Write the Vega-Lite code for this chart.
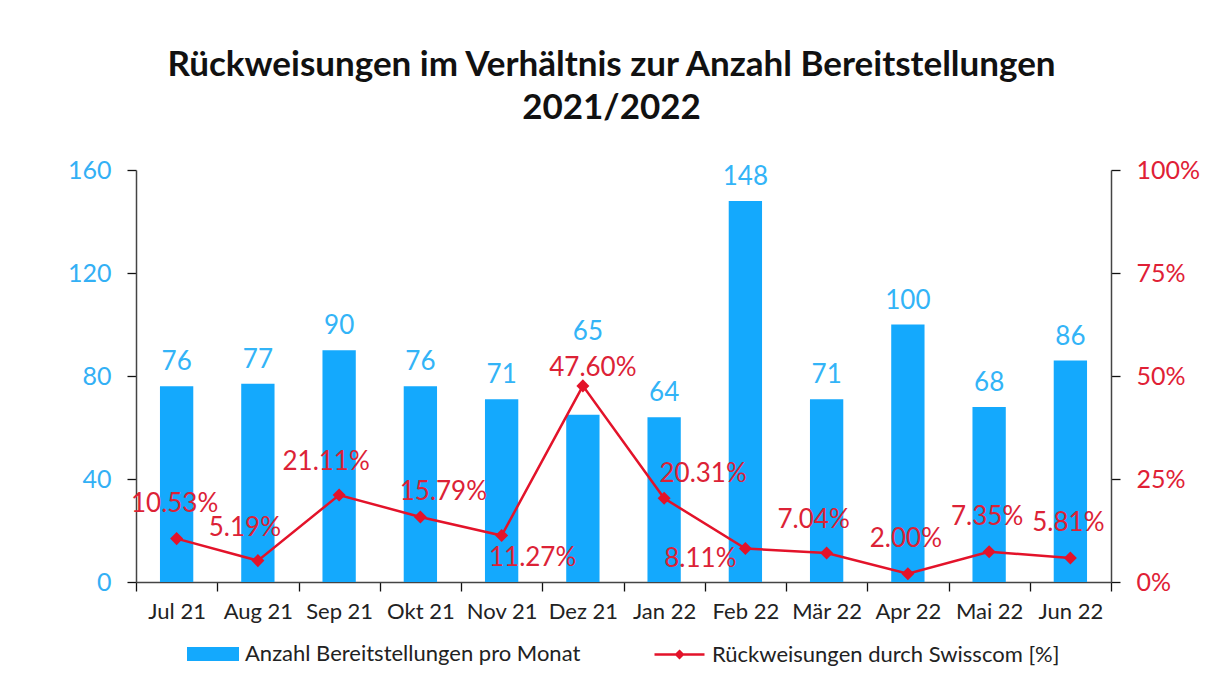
{
  "$schema": "https://vega.github.io/schema/vega-lite/v6.json",
  "width": 975,
  "height": 412,
  "autosize": {"type": "none"},
  "padding": {"left": 136, "top": 170, "right": 95, "bottom": 111},
  "background": "white",
  "title": {
    "text": ["Rückweisungen im Verhältnis zur Anzahl Bereitstellungen", "2021/2022"],
    "font": "Lato",
    "fontSize": 35,
    "fontWeight": "bold",
    "color": "#111111",
    "lineHeight": 43,
    "offset": 32,
    "anchor": "middle",
    "dx": -12
  },
  "config": {
    "font": "Lato",
    "view": {"stroke": null},
    "legend": {
      "layout": {"bottom": {"anchor": "middle", "direction": "horizontal", "margin": 72}}
    }
  },
  "data": {
    "values": [
      {"month": "Jul 21", "count": 76, "pct": 0.1053},
      {"month": "Aug 21", "count": 77, "pct": 0.0519},
      {"month": "Sep 21", "count": 90, "pct": 0.2111},
      {"month": "Okt 21", "count": 76, "pct": 0.1579},
      {"month": "Nov 21", "count": 71, "pct": 0.1127},
      {"month": "Dez 21", "count": 65, "pct": 0.476},
      {"month": "Jan 22", "count": 64, "pct": 0.2031},
      {"month": "Feb 22", "count": 148, "pct": 0.0811},
      {"month": "Mär 22", "count": 71, "pct": 0.0704},
      {"month": "Apr 22", "count": 100, "pct": 0.02},
      {"month": "Mai 22", "count": 68, "pct": 0.0735},
      {"month": "Jun 22", "count": 86, "pct": 0.0581}
    ]
  },
  "encoding": {
    "x": {
      "field": "month",
      "type": "nominal",
      "sort": null,
      "scale": {"paddingInner": 0, "paddingOuter": 0},
      "axis": {
        "title": null,
        "labelAngle": 0,
        "labelFontSize": 22,
        "labelColor": "#222222",
        "labelPadding": 10,
        "tickBand": "extent",
        "tickSize": 9,
        "tickColor": "#111111",
        "tickWidth": 1.3,
        "domainColor": "#444444",
        "domainWidth": 1.5
      }
    }
  },
  "layer": [
    {
      "layer": [
        {
          "mark": {"type": "bar", "width": {"band": 0.41}},
          "encoding": {
            "y": {
              "field": "count",
              "type": "quantitative",
              "scale": {"domain": [0, 160]},
              "axis": {
                "title": null,
                "values": [0, 40, 80, 120, 160],
                "grid": false,
                "labelColor": "#33b0f5",
                "labelFontSize": 25,
                "labelPadding": 16,
                "tickSize": 9,
                "tickColor": "#111111",
                "tickWidth": 1.3,
                "domainColor": "#444444",
                "domainWidth": 1.5
              }
            },
            "color": {
              "datum": "Anzahl Bereitstellungen pro Monat",
              "scale": {"range": ["#14a9fd"]},
              "legend": {
                "title": null,
                "orient": "bottom",
                "symbolType": "M-1,-0.27H1V0.27H-1Z",
                "symbolSize": 2704,
                "symbolStrokeWidth": 0,
                "labelFontSize": 22,
                "labelLimit": 0,
                "labelColor": "#222222",
                "labelOffset": 6,
                "offset": 6
              }
            }
          }
        },
        {
          "transform": [{"filter": "datum.month != 'Dez 21'"}],
          "mark": {"type": "text", "dy": -24, "fontSize": 26, "color": "#33b4f7", "baseline": "middle"},
          "encoding": {
            "y": {"field": "count", "type": "quantitative"},
            "text": {"field": "count", "type": "quantitative"}
          }
        },
        {
          "transform": [{"filter": "datum.month == 'Dez 21'"}],
          "mark": {"type": "text", "dx": 5, "dy": -83, "fontSize": 26, "color": "#33b4f7", "baseline": "middle"},
          "encoding": {
            "y": {"field": "count", "type": "quantitative"},
            "text": {"field": "count", "type": "quantitative"}
          }
        }
      ]
    },
    {
      "layer": [
        {
          "mark": {
            "type": "line",
            "strokeWidth": 2.5,
            "point": {"shape": "diamond", "size": 170, "filled": true}
          },
          "encoding": {
            "y": {
              "field": "pct",
              "type": "quantitative",
              "scale": {"domain": [0, 1]},
              "axis": {
                "title": null,
                "orient": "right",
                "values": [0, 0.25, 0.5, 0.75, 1],
                "format": ".0%",
                "grid": false,
                "labelColor": "#e02035",
                "labelFontSize": 25,
                "labelPadding": 16,
                "tickSize": 9,
                "tickColor": "#111111",
                "tickWidth": 1.3,
                "domainColor": "#444444",
                "domainWidth": 1.5
              }
            },
            "color": {
              "datum": "Rückweisungen durch Swisscom [%]",
              "scale": {"range": ["#e3132a"]},
              "legend": {
                "title": null,
                "orient": "bottom",
                "symbolType": "M-1,0H1M0,-0.13L0.13,0L0,0.13L-0.13,0Z",
                "symbolSize": 2500,
                "symbolStrokeWidth": 2.5,
                "labelFontSize": 22,
                "labelLimit": 0,
                "labelColor": "#222222",
                "labelOffset": 6,
                "offset": 6,
                "encode": {"symbols": {"update": {"fill": {"value": "#e3132a"}, "stroke": {"value": "#e3132a"}}}}
              }
            }
          }
        },
        {
          "transform": [{"filter": "indexof(['Jul 21','Apr 22','Mai 22','Jun 22'], datum.month) >= 0"}],
          "mark": {"type": "text", "dx": -2, "dy": -35, "fontSize": 26, "color": "#dc2236", "baseline": "middle"},
          "encoding": {
            "y": {"field": "pct", "type": "quantitative"},
            "text": {"field": "pct", "type": "quantitative", "format": ".2%"}
          }
        },
        {
          "transform": [{"filter": "indexof(['Aug 21','Sep 21','Mär 22'], datum.month) >= 0"}],
          "mark": {"type": "text", "dx": -13, "dy": -33, "fontSize": 26, "color": "#dc2236", "baseline": "middle"},
          "encoding": {
            "y": {"field": "pct", "type": "quantitative"},
            "text": {"field": "pct", "type": "quantitative", "format": ".2%"}
          }
        },
        {
          "transform": [{"filter": "datum.month == 'Dez 21'"}],
          "mark": {"type": "text", "dx": 10, "dy": -18, "fontSize": 26, "color": "#dc2236", "baseline": "middle"},
          "encoding": {
            "y": {"field": "pct", "type": "quantitative"},
            "text": {"field": "pct", "type": "quantitative", "format": ".2%"}
          }
        },
        {
          "transform": [{"filter": "datum.month == 'Okt 21'"}],
          "mark": {"type": "text", "dx": 23, "dy": -25, "fontSize": 26, "color": "#dc2236", "baseline": "middle"},
          "encoding": {
            "y": {"field": "pct", "type": "quantitative"},
            "text": {"field": "pct", "type": "quantitative", "format": ".2%"}
          }
        },
        {
          "transform": [{"filter": "datum.month == 'Jan 22'"}],
          "mark": {"type": "text", "dx": 39, "dy": -24, "fontSize": 26, "color": "#dc2236", "baseline": "middle"},
          "encoding": {
            "y": {"field": "pct", "type": "quantitative"},
            "text": {"field": "pct", "type": "quantitative", "format": ".2%"}
          }
        },
        {
          "transform": [{"filter": "datum.month == 'Nov 21'"}],
          "mark": {"type": "text", "dx": 31, "dy": 22, "fontSize": 26, "color": "#dc2236", "baseline": "middle"},
          "encoding": {
            "y": {"field": "pct", "type": "quantitative"},
            "text": {"field": "pct", "type": "quantitative", "format": ".2%"}
          }
        },
        {
          "transform": [{"filter": "datum.month == 'Feb 22'"}],
          "mark": {"type": "text", "dx": -45, "dy": 10, "fontSize": 26, "color": "#dc2236", "baseline": "middle"},
          "encoding": {
            "y": {"field": "pct", "type": "quantitative"},
            "text": {"field": "pct", "type": "quantitative", "format": ".2%"}
          }
        }
      ]
    }
  ],
  "resolve": {"scale": {"y": "independent", "color": "independent"}}
}
